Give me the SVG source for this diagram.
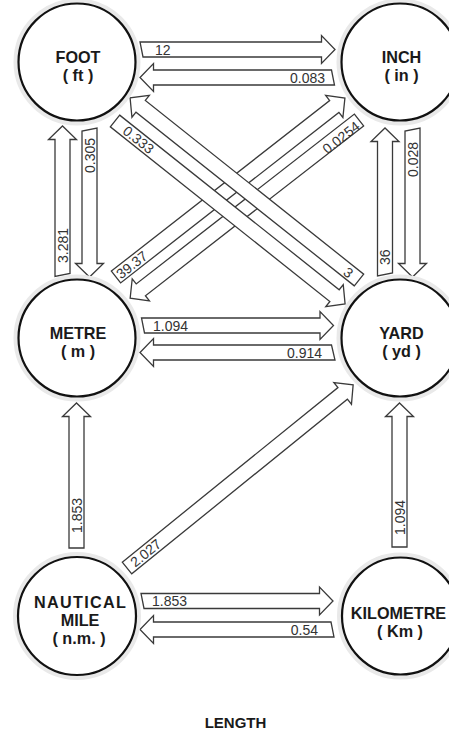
<svg xmlns="http://www.w3.org/2000/svg" width="449" height="733" viewBox="0 0 449 733">
<style>
.ar{fill:#fff;stroke:#3a3a3a;stroke-width:1.3;stroke-linejoin:miter}
.lb{font-family:"Liberation Sans",Arial,sans-serif;font-size:14px;fill:#333}
.mid{text-anchor:middle}
.end{text-anchor:end}
.halo{fill:none;stroke:#e9e9e9;stroke-width:4}
.ring{fill:#fff;stroke:#111;stroke-width:2.2}
.nt{font-family:"Liberation Sans",Arial,sans-serif;font-weight:bold;font-size:16.2px;text-anchor:middle;fill:#1a1a1a}
</style>
<rect width="449" height="733" fill="#fff"/>
<g id="connectors">
  <!-- FOOT <-> INCH -->
  <path class="ar" d="M140,42 L321.5,42 L321.5,35.5 L335,49.5 L321.5,63.5 L321.5,57 L143,57 Z"/>
  <text class="lb" x="155" y="54.5">12</text>
  <path class="ar" d="M331.5,70 L153.5,70 L153.5,63.5 L140,77.5 L153.5,91.5 L153.5,85 L334.5,85 Z"/>
  <text class="lb end" x="325" y="82.5">0.083</text>
  <!-- METRE <-> YARD -->
  <path class="ar" d="M141.5,318 L320,318 L320,311.5 L333.5,325.5 L320,339.5 L320,333 L144.5,333 Z"/>
  <text class="lb" x="153" y="330.5">1.094</text>
  <path class="ar" d="M331.5,345 L153.5,345 L153.5,338.5 L140,352.5 L153.5,366.5 L153.5,360 L335,360 Z"/>
  <text class="lb end" x="322" y="357.5">0.914</text>
  <!-- NM <-> KM -->
  <path class="ar" d="M141,593.5 L319.5,593.5 L319.5,587 L333,601 L319.5,615 L319.5,608.5 L144,608.5 Z"/>
  <text class="lb" x="152" y="606">1.853</text>
  <path class="ar" d="M331,622 L153.5,622 L153.5,615.5 L140,629.5 L153.5,643.5 L153.5,637 L334,637 Z"/>
  <text class="lb end" x="318" y="634.5">0.54</text>
  <!-- FOOT <-> METRE -->
  <path class="ar" d="M55,276.5 L55,139.5 L48.5,139.5 L62.5,126 L76.5,139.5 L70,139.5 L70,273.5 Z"/>
  <text class="lb" transform="translate(67.5,263) rotate(-90)">3.281</text>
  <path class="ar" d="M82,131 L82,263.5 L75.5,263.5 L89.5,277 L103.5,263.5 L97,263.5 L97,128 Z"/>
  <text class="lb" transform="translate(94.5,173) rotate(-90)">0.305</text>
  <!-- INCH <-> YARD -->
  <path class="ar" d="M377.5,276 L377.5,141.5 L371,141.5 L385,128 L399,141.5 L392.5,141.5 L392.5,273 Z"/>
  <text class="lb" transform="translate(390,265) rotate(-90)">36</text>
  <path class="ar" d="M405,131 L405,263.5 L398.5,263.5 L412.5,277 L426.5,263.5 L420,263.5 L420,128 Z"/>
  <text class="lb" transform="translate(417.5,177) rotate(-90)">0.028</text>
  <!-- NM -> METRE -->
  <path class="ar" d="M69,548 L69,416.5 L62.5,416.5 L76.5,403 L90.5,416.5 L84,416.5 L84,548 Z"/>
  <text class="lb" transform="translate(81.5,533) rotate(-90)">1.853</text>
  <!-- KM -> YARD -->
  <path class="ar" d="M392,547 L392,416.5 L385.5,416.5 L399.5,403 L413.5,416.5 L407,416.5 L407,547 Z"/>
  <text class="lb" transform="translate(404.5,535) rotate(-90)">1.094</text>
  <!-- NM -> YARD -->
  <g transform="translate(127,568) rotate(-39)">
    <path class="ar" d="M0,-7.5 H277.5 V-14 L291,0 L277.5,14 V7.5 H0 Z"/>
    <text class="lb mid" x="24" y="5">2.027</text>
  </g>
  <!-- INCH <-> METRE (under) -->
  <g transform="translate(359,120) rotate(142.1)">
    <path class="ar" d="M0,-7.5 H276.5 V-14 L290,0 L276.5,14 V7.5 H0 Z"/>
  </g>
  <text class="lb mid" transform="translate(341,137.5) rotate(-37.9)" y="5">0.0254</text>
  <g transform="translate(116,277) rotate(-38)">
    <path class="ar" d="M0,-7.5 H277 V-14 L290.5,0 L277,14 V7.5 H0 Z"/>
    <text class="lb mid" x="20" y="5">39.37</text>
  </g>
  <!-- FOOT <-> YARD (over) -->
  <g transform="translate(115,121) rotate(38.5)">
    <path class="ar" d="M0,-7.5 H280.5 V-14 L294,0 L280.5,14 V7.5 H0 Z"/>
    <text class="lb mid" x="30" y="5">0.333</text>
  </g>
  <g transform="translate(359,280) rotate(-141.5)">
    <path class="ar" d="M0,-7.5 H279 V-14 L292.5,0 L279,14 V7.5 H0 Z"/>
  </g>
  <text class="lb mid" transform="translate(348.5,272.5) rotate(38.5)" y="5">3</text>
</g>
<g id="foot">
  <circle class="halo" cx="77" cy="62" r="61.5"/>
  <circle class="ring" cx="77" cy="62" r="58.5"/>
  <text class="nt" x="78" y="62.5">FOOT</text>
  <text class="nt" x="78" y="80.8">( ft )</text>
</g>
<g id="inch">
  <circle class="halo" cx="400" cy="62" r="61.5"/>
  <circle class="ring" cx="400" cy="62" r="58.5"/>
  <text class="nt" x="401.5" y="62.5">INCH</text>
  <text class="nt" x="401.5" y="80.8">( in )</text>
</g>
<g id="metre">
  <circle class="halo" cx="77" cy="338" r="61.5"/>
  <circle class="ring" cx="77" cy="338" r="58.5"/>
  <text class="nt" x="78" y="339">METRE</text>
  <text class="nt" x="78" y="357.3">( m )</text>
</g>
<g id="yard">
  <circle class="halo" cx="400" cy="338" r="61.5"/>
  <circle class="ring" cx="400" cy="338" r="58.5"/>
  <text class="nt" x="401.5" y="339">YARD</text>
  <text class="nt" x="401.5" y="357.3">( yd )</text>
</g>
<g id="nautical-mile">
  <circle class="halo" cx="77" cy="616" r="62"/>
  <circle class="ring" cx="77" cy="616" r="59"/>
  <text class="nt" x="80" y="607.5" textLength="92" lengthAdjust="spacing">NAUTICAL</text>
  <text class="nt" x="80" y="625.8">MILE</text>
  <text class="nt" x="79" y="644.1">( n.m. )</text>
</g>
<g id="kilometre">
  <circle class="halo" cx="400.5" cy="616" r="61.5"/>
  <circle class="ring" cx="400.5" cy="616" r="58.5"/>
  <text class="nt" x="398.5" y="619">KILOMETRE</text>
  <text class="nt" x="400" y="637.3">( Km )</text>
</g>
<text id="title" x="235.5" y="728" font-family="Liberation Sans, Arial, sans-serif" font-weight="bold" font-size="15" text-anchor="middle" fill="#1a1a1a">LENGTH</text>
</svg>
